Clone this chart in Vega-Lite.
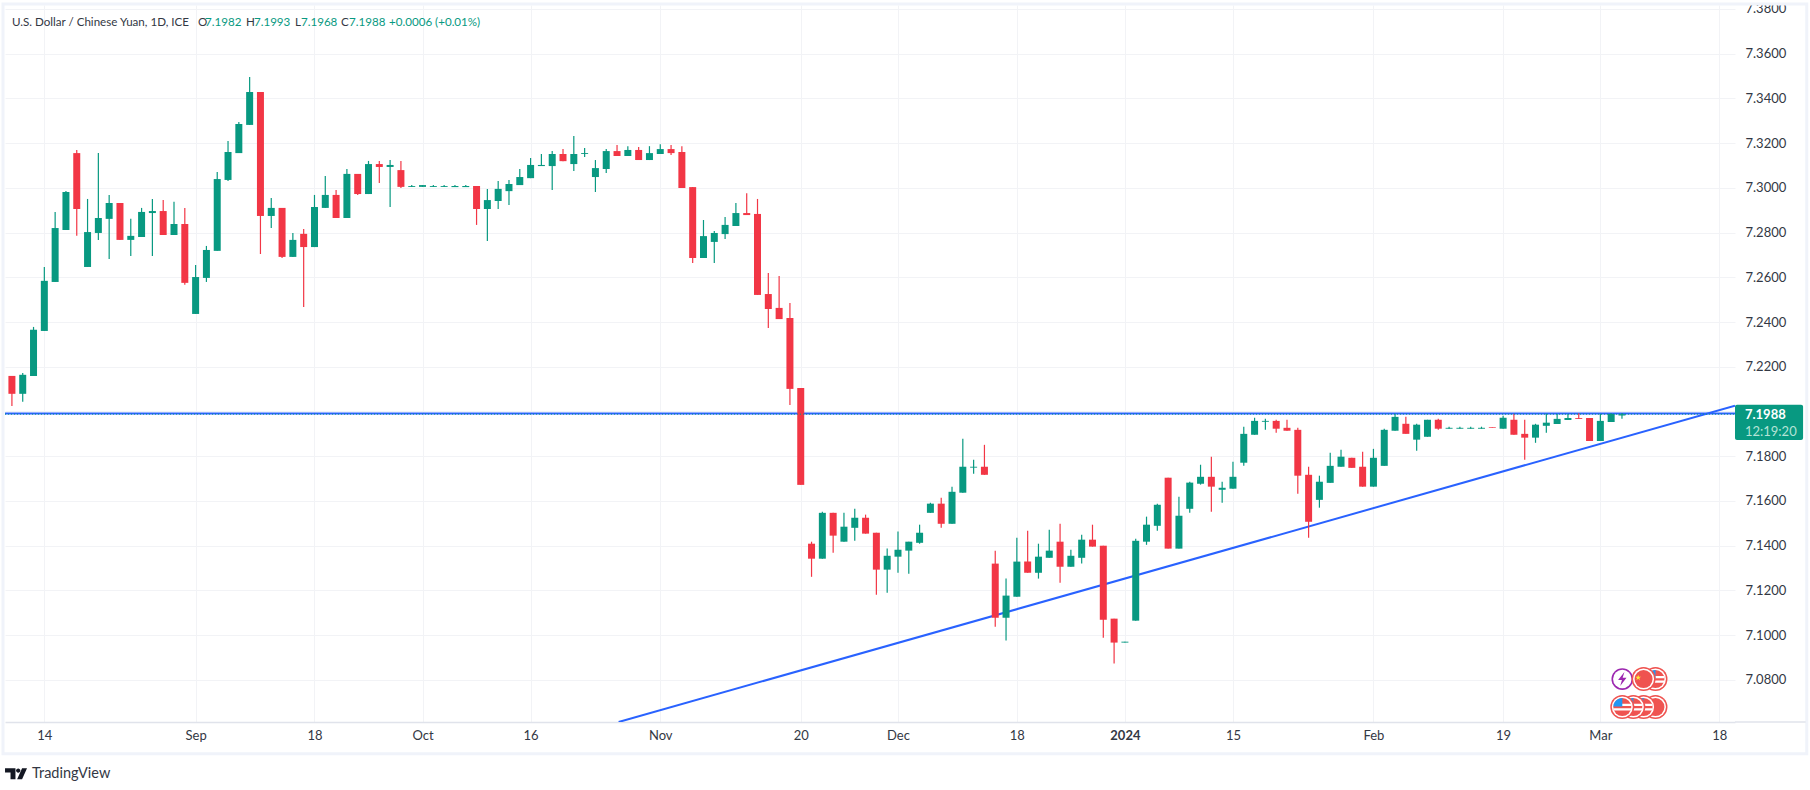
{
"$schema":"https://vega.github.io/schema/vega-lite/v6.json",
"width":1730,"height":717,
"autosize":{"type":"none"},
"padding":{"left":5,"top":5,"right":75,"bottom":68},
"background":"white",
"config":{"view":{"stroke":null},"font":"Lato"},
"datasets":{
"candles":[
{"i":0,"o":7.2159,"h":7.2159,"l":7.2025,"c":7.2079},
{"i":1,"o":7.2079,"h":7.2172,"l":7.2043,"c":7.2164},
{"i":2,"o":7.2159,"h":7.2378,"l":7.2159,"c":7.2365},
{"i":3,"o":7.2360,"h":7.2646,"l":7.2360,"c":7.2584},
{"i":4,"o":7.2579,"h":7.2892,"l":7.2579,"c":7.2820},
{"i":5,"o":7.2811,"h":7.2986,"l":7.2811,"c":7.2981},
{"i":6,"o":7.3155,"h":7.3169,"l":7.2785,"c":7.2905},
{"i":7,"o":7.2646,"h":7.2950,"l":7.2646,"c":7.2802},
{"i":8,"o":7.2798,"h":7.3155,"l":7.2767,"c":7.2865},
{"i":9,"o":7.2861,"h":7.2968,"l":7.2682,"c":7.2932},
{"i":10,"o":7.2932,"h":7.2932,"l":7.2767,"c":7.2767},
{"i":11,"o":7.2767,"h":7.2861,"l":7.2695,"c":7.2785},
{"i":12,"o":7.2780,"h":7.2910,"l":7.2780,"c":7.2892},
{"i":13,"o":7.2887,"h":7.2950,"l":7.2695,"c":7.2896},
{"i":14,"o":7.2896,"h":7.2945,"l":7.2789,"c":7.2789},
{"i":15,"o":7.2789,"h":7.2937,"l":7.2789,"c":7.2838},
{"i":16,"o":7.2838,"h":7.2910,"l":7.2566,"c":7.2575},
{"i":17,"o":7.2436,"h":7.2655,"l":7.2436,"c":7.2601},
{"i":18,"o":7.2597,"h":7.2740,"l":7.2579,"c":7.2722},
{"i":19,"o":7.2718,"h":7.3071,"l":7.2718,"c":7.3039},
{"i":20,"o":7.3035,"h":7.3209,"l":7.3030,"c":7.3160},
{"i":21,"o":7.3155,"h":7.3294,"l":7.3155,"c":7.3285},
{"i":22,"o":7.3281,"h":7.3495,"l":7.3281,"c":7.3428},
{"i":23,"o":7.3428,"h":7.3428,"l":7.2704,"c":7.2874},
{"i":24,"o":7.2874,"h":7.2954,"l":7.2820,"c":7.2910},
{"i":25,"o":7.2910,"h":7.2910,"l":7.2686,"c":7.2691},
{"i":26,"o":7.2691,"h":7.2798,"l":7.2691,"c":7.2767},
{"i":27,"o":7.2794,"h":7.2816,"l":7.2467,"c":7.2735},
{"i":28,"o":7.2735,"h":7.2968,"l":7.2735,"c":7.2914},
{"i":29,"o":7.2910,"h":7.3053,"l":7.2910,"c":7.2968},
{"i":30,"o":7.2968,"h":7.2990,"l":7.2865,"c":7.2865},
{"i":31,"o":7.2865,"h":7.3084,"l":7.2865,"c":7.3062},
{"i":32,"o":7.3062,"h":7.3062,"l":7.2968,"c":7.2972},
{"i":33,"o":7.2972,"h":7.3120,"l":7.2972,"c":7.3106},
{"i":34,"o":7.3106,"h":7.3120,"l":7.3021,"c":7.3093},
{"i":35,"o":7.3093,"h":7.3124,"l":7.2914,"c":7.3102},
{"i":36,"o":7.3079,"h":7.3120,"l":7.2999,"c":7.3004},
{"i":37,"o":7.3004,"h":7.3012,"l":7.3004,"c":7.3008},
{"i":38,"o":7.3004,"h":7.3012,"l":7.3004,"c":7.3012},
{"i":39,"o":7.3004,"h":7.3012,"l":7.3004,"c":7.3008},
{"i":40,"o":7.3004,"h":7.3012,"l":7.3004,"c":7.3008},
{"i":41,"o":7.3003,"h":7.3012,"l":7.3003,"c":7.3008},
{"i":42,"o":7.3003,"h":7.3012,"l":7.3003,"c":7.3008},
{"i":43,"o":7.3008,"h":7.3008,"l":7.2834,"c":7.2905},
{"i":44,"o":7.2905,"h":7.2995,"l":7.2762,"c":7.2945},
{"i":45,"o":7.2941,"h":7.3030,"l":7.2905,"c":7.2995},
{"i":46,"o":7.2985,"h":7.3035,"l":7.2923,"c":7.3017},
{"i":47,"o":7.3012,"h":7.3084,"l":7.3012,"c":7.3048},
{"i":48,"o":7.3043,"h":7.3133,"l":7.3043,"c":7.3102},
{"i":49,"o":7.3097,"h":7.3151,"l":7.3097,"c":7.3102},
{"i":50,"o":7.3097,"h":7.3164,"l":7.2990,"c":7.3151},
{"i":51,"o":7.3151,"h":7.3173,"l":7.3119,"c":7.3119},
{"i":52,"o":7.3106,"h":7.3231,"l":7.3075,"c":7.3151},
{"i":53,"o":7.3151,"h":7.3178,"l":7.3137,"c":7.3155},
{"i":54,"o":7.3048,"h":7.3124,"l":7.2981,"c":7.3088},
{"i":55,"o":7.3084,"h":7.3173,"l":7.3066,"c":7.3164},
{"i":56,"o":7.3164,"h":7.3191,"l":7.3142,"c":7.3142},
{"i":57,"o":7.3142,"h":7.3186,"l":7.3142,"c":7.3169},
{"i":58,"o":7.3169,"h":7.3182,"l":7.3124,"c":7.3124},
{"i":59,"o":7.3124,"h":7.3186,"l":7.3124,"c":7.3155},
{"i":60,"o":7.3151,"h":7.3195,"l":7.3151,"c":7.3173},
{"i":61,"o":7.3173,"h":7.3191,"l":7.3146,"c":7.3155},
{"i":62,"o":7.3160,"h":7.3186,"l":7.2999,"c":7.2999},
{"i":63,"o":7.3003,"h":7.3003,"l":7.2664,"c":7.2686},
{"i":64,"o":7.2686,"h":7.2856,"l":7.2686,"c":7.2784},
{"i":65,"o":7.2758,"h":7.2807,"l":7.2664,"c":7.2798},
{"i":66,"o":7.2793,"h":7.2869,"l":7.2771,"c":7.2834},
{"i":67,"o":7.2829,"h":7.2932,"l":7.2829,"c":7.2887},
{"i":68,"o":7.2887,"h":7.2976,"l":7.2878,"c":7.2878},
{"i":69,"o":7.2883,"h":7.2950,"l":7.2521,"c":7.2521},
{"i":70,"o":7.2525,"h":7.2619,"l":7.2373,"c":7.2458},
{"i":71,"o":7.2463,"h":7.2606,"l":7.2413,"c":7.2413},
{"i":72,"o":7.2418,"h":7.2485,"l":7.2029,"c":7.2101},
{"i":73,"o":7.2105,"h":7.2105,"l":7.1672,"c":7.1672},
{"i":74,"o":7.1409,"h":7.1418,"l":7.1261,"c":7.1342},
{"i":75,"o":7.1342,"h":7.1552,"l":7.1342,"c":7.1547},
{"i":76,"o":7.1547,"h":7.1547,"l":7.1369,"c":7.1445},
{"i":77,"o":7.1418,"h":7.1547,"l":7.1418,"c":7.1485},
{"i":78,"o":7.1480,"h":7.1565,"l":7.1422,"c":7.1525},
{"i":79,"o":7.1525,"h":7.1539,"l":7.1454,"c":7.1454},
{"i":80,"o":7.1458,"h":7.1458,"l":7.1181,"c":7.1293},
{"i":81,"o":7.1293,"h":7.1387,"l":7.1190,"c":7.1355},
{"i":82,"o":7.1351,"h":7.1463,"l":7.1279,"c":7.1382},
{"i":83,"o":7.1378,"h":7.1418,"l":7.1275,"c":7.1418},
{"i":84,"o":7.1413,"h":7.1494,"l":7.1409,"c":7.1458},
{"i":85,"o":7.1547,"h":7.1592,"l":7.1547,"c":7.1588},
{"i":86,"o":7.1588,"h":7.1614,"l":7.1480,"c":7.1498},
{"i":87,"o":7.1498,"h":7.1664,"l":7.1498,"c":7.1641},
{"i":88,"o":7.1637,"h":7.1878,"l":7.1637,"c":7.1753},
{"i":89,"o":7.1749,"h":7.1784,"l":7.1722,"c":7.1753},
{"i":90,"o":7.1753,"h":7.1851,"l":7.1717,"c":7.1717},
{"i":91,"o":7.1320,"h":7.1378,"l":7.1038,"c":7.1078},
{"i":92,"o":7.1078,"h":7.1253,"l":7.0976,"c":7.1177},
{"i":93,"o":7.1172,"h":7.1436,"l":7.1172,"c":7.1329},
{"i":94,"o":7.1329,"h":7.1467,"l":7.1279,"c":7.1279},
{"i":95,"o":7.1279,"h":7.1409,"l":7.1253,"c":7.1351},
{"i":96,"o":7.1346,"h":7.1471,"l":7.1346,"c":7.1378},
{"i":97,"o":7.1418,"h":7.1498,"l":7.1235,"c":7.1306},
{"i":98,"o":7.1306,"h":7.1382,"l":7.1306,"c":7.1355},
{"i":99,"o":7.1346,"h":7.1449,"l":7.1320,"c":7.1427},
{"i":100,"o":7.1427,"h":7.1494,"l":7.1396,"c":7.1396},
{"i":101,"o":7.1400,"h":7.1400,"l":7.0989,"c":7.1069},
{"i":102,"o":7.1074,"h":7.1074,"l":7.0873,"c":7.0967},
{"i":103,"o":7.0967,"h":7.0971,"l":7.0967,"c":7.0971},
{"i":104,"o":7.1065,"h":7.1431,"l":7.1065,"c":7.1422},
{"i":105,"o":7.1418,"h":7.1530,"l":7.1404,"c":7.1494},
{"i":106,"o":7.1489,"h":7.1588,"l":7.1467,"c":7.1583},
{"i":107,"o":7.1704,"h":7.1704,"l":7.1387,"c":7.1387},
{"i":108,"o":7.1387,"h":7.1619,"l":7.1387,"c":7.1534},
{"i":109,"o":7.1565,"h":7.1686,"l":7.1547,"c":7.1682},
{"i":110,"o":7.1677,"h":7.1762,"l":7.1673,"c":7.1708},
{"i":111,"o":7.1708,"h":7.1798,"l":7.1552,"c":7.1664},
{"i":112,"o":7.1650,"h":7.1686,"l":7.1592,"c":7.1659},
{"i":113,"o":7.1655,"h":7.1775,"l":7.1655,"c":7.1708},
{"i":114,"o":7.1771,"h":7.1932,"l":7.1757,"c":7.1900},
{"i":115,"o":7.1896,"h":7.1972,"l":7.1896,"c":7.1958},
{"i":116,"o":7.1954,"h":7.1967,"l":7.1918,"c":7.1958},
{"i":117,"o":7.1958,"h":7.1963,"l":7.1905,"c":7.1923},
{"i":118,"o":7.1927,"h":7.1963,"l":7.1914,"c":7.1914},
{"i":119,"o":7.1918,"h":7.1927,"l":7.1632,"c":7.1713},
{"i":120,"o":7.1717,"h":7.1753,"l":7.1436,"c":7.1507},
{"i":121,"o":7.1605,"h":7.1713,"l":7.1570,"c":7.1686},
{"i":122,"o":7.1681,"h":7.1816,"l":7.1681,"c":7.1757},
{"i":123,"o":7.1753,"h":7.1829,"l":7.1753,"c":7.1798},
{"i":124,"o":7.1793,"h":7.1793,"l":7.1748,"c":7.1748},
{"i":125,"o":7.1753,"h":7.1820,"l":7.1664,"c":7.1664},
{"i":126,"o":7.1664,"h":7.1833,"l":7.1664,"c":7.1793},
{"i":127,"o":7.1757,"h":7.1923,"l":7.1757,"c":7.1918},
{"i":128,"o":7.1914,"h":7.1990,"l":7.1914,"c":7.1976},
{"i":129,"o":7.1945,"h":7.1976,"l":7.1900,"c":7.1900},
{"i":130,"o":7.1874,"h":7.1945,"l":7.1824,"c":7.1941},
{"i":131,"o":7.1887,"h":7.1963,"l":7.1887,"c":7.1963},
{"i":132,"o":7.1963,"h":7.1967,"l":7.1918,"c":7.1923},
{"i":133,"o":7.1923,"h":7.1932,"l":7.1923,"c":7.1927},
{"i":134,"o":7.1923,"h":7.1932,"l":7.1923,"c":7.1927},
{"i":135,"o":7.1923,"h":7.1932,"l":7.1923,"c":7.1927},
{"i":136,"o":7.1923,"h":7.1932,"l":7.1923,"c":7.1927},
{"i":137,"o":7.1930,"h":7.1930,"l":7.1927,"c":7.1927},
{"i":138,"o":7.1923,"h":7.1981,"l":7.1923,"c":7.1972},
{"i":139,"o":7.1963,"h":7.1990,"l":7.1896,"c":7.1896},
{"i":140,"o":7.1900,"h":7.1963,"l":7.1784,"c":7.1883},
{"i":141,"o":7.1883,"h":7.1945,"l":7.1860,"c":7.1941},
{"i":142,"o":7.1936,"h":7.1990,"l":7.1905,"c":7.1950},
{"i":143,"o":7.1944,"h":7.1989,"l":7.1944,"c":7.1967},
{"i":144,"o":7.1962,"h":7.1989,"l":7.1962,"c":7.1971},
{"i":145,"o":7.1971,"h":7.1992,"l":7.1967,"c":7.1967},
{"i":146,"o":7.1971,"h":7.1971,"l":7.1868,"c":7.1868},
{"i":147,"o":7.1868,"h":7.1989,"l":7.1868,"c":7.1958},
{"i":148,"o":7.1953,"h":7.1992,"l":7.1953,"c":7.1989},
{"i":149,"o":7.1982,"h":7.1993,"l":7.1968,"c":7.1988}
],
"lines":[
{"i":-0.64,"p":7.1991,"name":"level"},
{"i":159.46,"p":7.1991,"name":"level"},
{"i":56.15,"p":7.0612,"name":"trend"},
{"i":159.46,"p":7.2026,"name":"trend"}
],
"frame":[{"i":-0.825,"i2":166.1,"p":7.3821,"p2":7.0470}],
"sep":[{"i":159.46,"i2":166.0,"p":7.0612}],
"badge":[{"i":159.46,"i2":165.76,"p":7.2030,"p2":7.1873}],
"header":[
{"i":0.0,"p":7.3738,"txt":"U.S. Dollar / Chinese Yuan, 1D, ICE","kind":"ink"},
{"i":17.22,"p":7.3738,"txt":"O","kind":"ink"},
{"i":17.87,"p":7.3738,"txt":"7.1982","kind":"up"},
{"i":21.66,"p":7.3738,"txt":"H","kind":"ink"},
{"i":22.40,"p":7.3738,"txt":"7.1993","kind":"up"},
{"i":26.2,"p":7.3738,"txt":"L","kind":"ink"},
{"i":26.75,"p":7.3738,"txt":"7.1968","kind":"up"},
{"i":30.46,"p":7.3738,"txt":"C","kind":"ink"},
{"i":31.2,"p":7.3738,"txt":"7.1988","kind":"up"},
{"i":34.9,"p":7.3738,"txt":"+0.0006 (+0.01%)","kind":"up"}
],
"brand":[{"i":1.86,"p":7.0381,"txt":"TradingView"}],
"logo":[{"i":0.38,"p":7.0381}],
"price":[{"i":160.38,"p":7.1985,"txt":"7.1988"}],
"countdown":[{"i":160.38,"p":7.1910,"txt":"12:19:20"}],
"level":[{"i":-0.64,"i2":159.46,"p":7.1988}],
"events":[
{"i":149.03,"p":7.0804,"part":"pring"},{"i":149.03,"p":7.0804,"part":"pgap"},{"i":149.03,"p":7.0804,"part":"bolt"},
{"i":152.1,"p":7.0804,"part":"ring"},{"i":152.1,"p":7.0804,"part":"gap"},{"i":152.1,"p":7.0804,"part":"disc"},{"i":152.1,"p":7.0804,"part":"stripes"},{"i":152.1,"p":7.0804,"part":"canton"},
{"i":151.0,"p":7.0804,"part":"ring"},{"i":151.0,"p":7.0804,"part":"gap"},{"i":151.0,"p":7.0804,"part":"disc"},{"i":150.5,"p":7.0810,"part":"star"},
{"i":152.1,"p":7.0679,"part":"ring"},{"i":152.1,"p":7.0679,"part":"gap"},{"i":152.1,"p":7.0679,"part":"disc"},
{"i":151.0,"p":7.0679,"part":"ring"},{"i":151.0,"p":7.0679,"part":"gap"},{"i":151.0,"p":7.0679,"part":"disc"},{"i":151.0,"p":7.0679,"part":"stripes"},{"i":151.0,"p":7.0679,"part":"canton"},
{"i":150.05,"p":7.0679,"part":"ring"},{"i":150.05,"p":7.0679,"part":"gap"},{"i":150.05,"p":7.0679,"part":"disc"},{"i":150.05,"p":7.0679,"part":"stripes"},{"i":150.05,"p":7.0679,"part":"canton"},
{"i":149.03,"p":7.0679,"part":"ring"},{"i":149.03,"p":7.0679,"part":"gap"},{"i":149.03,"p":7.0679,"part":"disc"},{"i":149.03,"p":7.0679,"part":"stripes"},{"i":149.03,"p":7.0679,"part":"canton"}
]
},
"encoding":{
"x":{"field":"i","type":"quantitative","title":null,
"scale":{"domain":[-0.64,159.46],"nice":false,"zero":false,"padding":0},
"axis":{"values":[3,17,28,38,48,60,73,82,93,103,113,126,138,147,158],
"labelExpr":"{'3':'14','17':'Sep','28':'18','38':'Oct','48':'16','60':'Nov','73':'20','82':'Dec','93':'18','103':'2024','113':'15','126':'Feb','138':'19','147':'Mar','158':'18'}[''+datum.value]",
"labelFontWeight":{"condition":{"test":"datum.value==103","value":"bold"},"value":"normal"},
"grid":true,"gridColor":"#f2f3f6","gridWidth":1,"domain":true,"domainColor":"#e0e3eb","domainWidth":1.5,"ticks":false,"labelPadding":7,"labelFontSize":13,"labelColor":"#333844","labelFont":"Lato","labelOverlap":false,"labelFlush":false,"title":null}},
"y":{"field":"p","type":"quantitative","title":null,
"scale":{"domain":[7.0612,7.3817],"nice":false,"zero":false},
"axis":{"orient":"right","values":[7.08,7.10,7.12,7.14,7.16,7.18,7.20,7.22,7.24,7.26,7.28,7.30,7.32,7.34,7.36,7.38],"format":".4f",
"grid":true,"gridColor":"#f2f3f6","gridWidth":1,"domain":false,"ticks":false,"labelPadding":10,"labelFontSize":13,"labelColor":"#333844","labelFont":"Lato","labelOverlap":false,"labelBound":false,"title":null}}
},
"layer":[
{"data":{"name":"frame"},"mark":{"type":"rect","fillOpacity":0,"stroke":"#f0f3fa","strokeWidth":3,"clip":false},
 "encoding":{"x2":{"field":"i2"},"y2":{"field":"p2"}}},
{"data":{"name":"sep"},"mark":{"type":"rule","color":"#e0e3eb","strokeWidth":1.5,"clip":false},
 "encoding":{"x2":{"field":"i2"}}},
{"data":{"name":"lines"},"mark":{"type":"line","color":"#2962ff","strokeWidth":2,"clip":true},
 "encoding":{"detail":{"field":"name"}}},
{"data":{"name":"candles"},"mark":{"type":"rule","strokeWidth":1.2},
 "encoding":{"y":{"field":"l","type":"quantitative"},"y2":{"field":"h"},
 "color":{"condition":{"test":"datum.c>=datum.o","value":"#089981"},"value":"#f23645"}}},
{"data":{"name":"candles"},"mark":{"type":"bar","size":7},
 "encoding":{"y":{"field":"o","type":"quantitative"},"y2":{"field":"c"},
 "color":{"condition":{"test":"datum.c>=datum.o","value":"#089981"},"value":"#f23645"}}},
{"data":{"name":"level"},"mark":{"type":"rule","color":"#089981","strokeWidth":1,"strokeDash":[1,2]},
 "encoding":{"x2":{"field":"i2"}}},
{"data":{"name":"badge"},"mark":{"type":"rect","color":"#089981","cornerRadius":2,"clip":false},
 "encoding":{"x2":{"field":"i2"},"y2":{"field":"p2"}}},
{"data":{"name":"price"},"mark":{"type":"text","align":"left","baseline":"middle","color":"#ffffff","fontWeight":"bold","fontSize":13,"clip":false},
 "encoding":{"text":{"field":"txt"}}},
{"data":{"name":"countdown"},"mark":{"type":"text","align":"left","baseline":"middle","color":"#b5e3d6","fontSize":13,"clip":false},
 "encoding":{"text":{"field":"txt"}}},
{"data":{"name":"header"},"mark":{"type":"text","align":"left","baseline":"middle","fontSize":11.6},
 "encoding":{"text":{"field":"txt"},"color":{"field":"kind","type":"nominal","legend":null,"scale":{"domain":["ink","up"],"range":["#333844","#089981"]}}}},
{"data":{"name":"brand"},"mark":{"type":"text","align":"left","baseline":"middle","fontSize":14.5,"color":"#333844","clip":false},
 "encoding":{"text":{"field":"txt"}}},
{"data":{"name":"logo"},"mark":{"type":"point","filled":true,"opacity":1,"color":"#131722","size":484,"shape":"M-1,-0.5 H-0.05 V0.5 H-0.5 V-0.1 H-1 Z M0,-0.28 a0.2,0.2 0 1,0 0.4,0 a0.2,0.2 0 1,0 -0.4,0 Z M0.55,-0.5 H1 L0.55,0.5 H0.1 Z","clip":false},
 "encoding":{}},
{"data":{"name":"events"},"mark":{"type":"point","filled":true,"opacity":1},
 "encoding":{
 "color":{"field":"part","type":"nominal","legend":null,"scale":{"domain":["ring","gap","disc","stripes","canton","star","pring","pgap","bolt"],"range":["#ef5350","#ffffff","#ef5350","#ffffff","#2196f3","#ffeb3b","#9c27b0","#ffffff","#9c27b0"]}},
 "size":{"field":"part","type":"nominal","legend":null,"scale":{"type":"ordinal","domain":["ring","gap","disc","stripes","canton","star","pring","pgap","bolt"],"range":[576,441,324,324,324,36,470,342,196]}},
 "shape":{"field":"part","type":"nominal","legend":null,"scale":{"domain":["ring","gap","disc","stripes","canton","star","pring","pgap","bolt"],"range":["circle","circle","circle","M-0.94,-0.35 H0.94 L1,-0.1 H-1 Z M-1,0.15 H1 L0.94,0.4 H-0.94 Z","M0,-1 V-0.05 H-1 A1,1 0 0 1 0,-1 Z","M0,-1 L0.24,-0.31 L0.95,-0.31 L0.38,0.12 L0.59,0.81 L0,0.38 L-0.59,0.81 L-0.38,0.12 L-0.95,-0.31 L-0.24,-0.31 Z","circle","circle","M0.3,-1 L-0.6,0.15 H-0.05 L-0.3,1 L0.6,-0.2 H0.05 Z"]}}
 }}
],
"resolve":{"scale":{"color":"independent"}}
}
